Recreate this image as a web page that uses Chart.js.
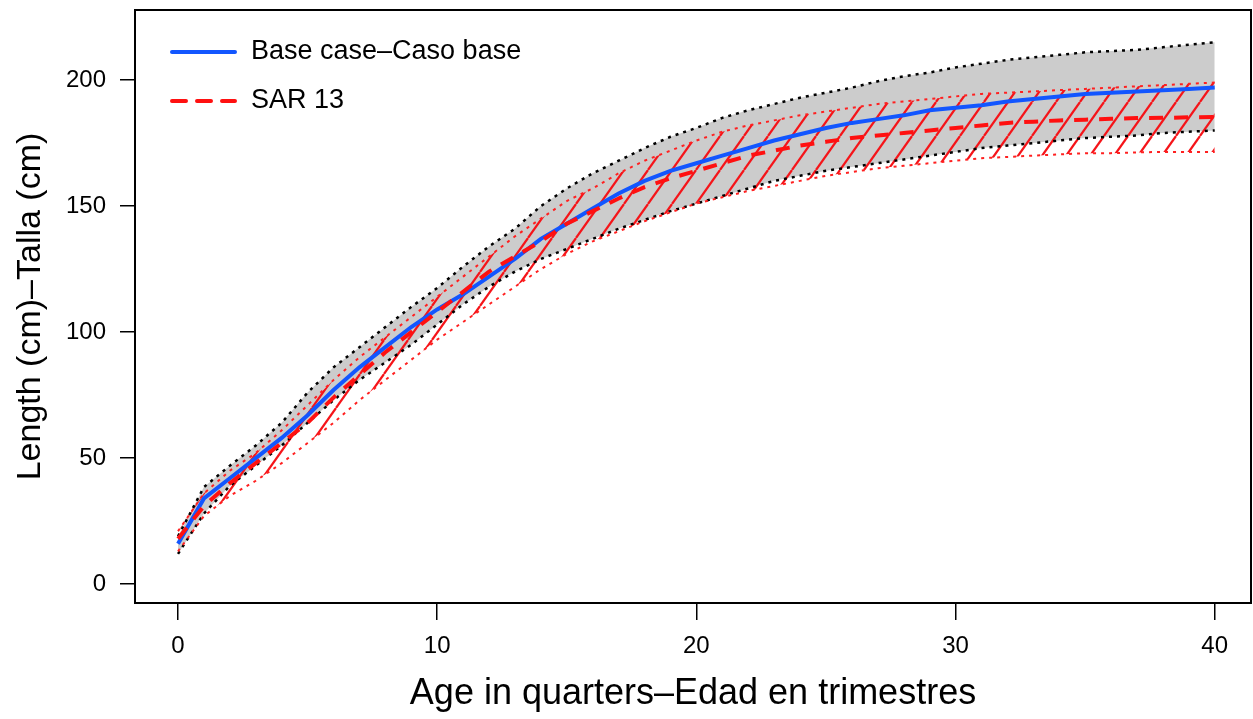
<!DOCTYPE html>
<html>
<head>
<meta charset="utf-8">
<script src="https://cdn.jsdelivr.net/npm/chart.js@4.4.0/dist/chart.umd.min.js"></script>
<style>
  html, body { margin: 0; padding: 0; background: #fff; }
  #wrap { width: 1253px; height: 719px; }
</style>
</head>
<body>
<div id="wrap"><canvas id="growth"></canvas></div>
<script>
const FONT = "'Liberation Sans', Arial, sans-serif";

// age in quarters
const quarters = [0, 1, 2, 3, 4, 5, 6, 7, 8, 9, 10, 11, 12, 13, 14, 15, 16, 17, 18, 19, 20,
                  21, 22, 23, 24, 25, 26, 27, 28, 29, 30, 31, 32, 33, 34, 35, 36, 37, 38, 39, 40];

// base case: mean length and interval limits (cm)
const baseMean = [16, 34, 42, 50, 58, 67, 77, 86, 94, 102, 109, 115, 122, 129, 137, 143, 149, 155, 160, 164, 167,
                  170, 173, 176, 178.5, 181, 183, 184.5, 186, 188, 189, 190, 191.5, 192.5, 193.5, 194.5, 195, 195.5, 196, 196.5, 197];
const baseUpper = [19, 38.5, 47, 55, 64, 76, 86, 94, 102, 110, 117.5, 126, 134, 141, 150, 157, 163, 168, 173, 177.5, 181,
                   185, 188, 190.5, 193, 195, 197, 199.5, 201.5, 203, 205, 206.5, 208, 209, 210, 211, 211.5, 212, 213, 214, 215];
const baseLower = [12, 28, 39, 47, 55, 64, 73, 81, 88, 95, 103, 111, 118, 124, 129, 133, 137, 141, 144.5, 148, 151,
                   154, 157, 160, 162, 164, 165.5, 167, 168.5, 170, 171.5, 173, 174, 175, 176, 177, 177.5, 178, 179, 179.5, 180];

// SAR 13: mean length and interval limits (cm)
const sarMean = [18, 31, 40, 48, 56, 64, 74, 83, 92, 100, 108, 116, 124, 130, 136, 143, 148, 153, 157.5, 161, 164,
                 167, 170, 172, 174, 175.5, 177, 178, 179, 180, 181, 182, 183, 183.5, 184, 184.3, 184.6, 184.9, 185, 185.2, 185.3];
const sarUpper = [21, 36, 45, 52, 61, 71, 81, 90, 98, 106, 114, 122, 130, 138, 145, 152, 157, 163, 168, 172, 176,
                  179.5, 182, 184, 186, 187.5, 189, 190.5, 191.5, 192.5, 193.5, 194.5, 195, 195.5, 196, 196.5, 197, 197.5, 198, 198.5, 199];
const sarLower = [13, 27, 35, 41, 48, 56, 64, 73, 81, 89, 97, 104, 111, 118, 125, 131, 136, 140, 144, 147.5, 151,
                  153.5, 156, 158, 160, 162, 163.5, 165, 166, 167, 168, 169, 169.5, 170, 170.5, 171, 171, 171.3, 171.5, 171.5, 171.5];

const xTicks = [0, 10, 20, 30, 40];
const yTicks = [0, 50, 100, 150, 200];

function points(values) {
  return quarters.map((q, i) => ({ x: q, y: values[i] }));
}

// diagonal red hatching used for the SAR 13 band
function hatchPattern() {
  const w = 24, h = 34;
  const c = document.createElement('canvas');
  c.width = w; c.height = h;
  const g = c.getContext('2d');
  g.strokeStyle = 'rgb(245,20,25)';
  g.lineWidth = 2.2;
  for (let k = -1; k <= 1; k++) {
    g.beginPath();
    g.moveTo(k * w, h);
    g.lineTo(k * w + w, 0);
    g.stroke();
  }
  return g.createPattern(c, 'repeat');
}

const frameBox = {
  id: 'frameBox',
  afterDatasetsDraw(chart) {
    const { ctx, chartArea: a } = chart;
    ctx.save();
    ctx.strokeStyle = '#000';
    ctx.lineWidth = 2;
    ctx.strokeRect(a.left, a.top, a.right - a.left, a.bottom - a.top);
    ctx.restore();
  }
};

const insetLegend = {
  id: 'insetLegend',
  afterDatasetsDraw(chart, args, opts) {
    const { ctx, chartArea: a } = chart;
    ctx.save();
    opts.items.forEach((idx, i) => {
      const ds = chart.data.datasets[idx];
      const x0 = a.left + opts.left;
      const y = a.top + opts.top + i * opts.spacing;
      ctx.beginPath();
      ctx.setLineDash(ds.borderDash || []);
      ctx.lineWidth = ds.borderWidth;
      ctx.strokeStyle = ds.borderColor;
      ctx.lineCap = 'round';
      ctx.moveTo(x0, y);
      ctx.lineTo(x0 + opts.lineLength, y);
      ctx.stroke();
      ctx.setLineDash([]);
      ctx.fillStyle = '#000';
      ctx.font = opts.fontSize + 'px ' + FONT;
      ctx.textBaseline = 'middle';
      ctx.fillText(ds.label, x0 + opts.lineLength + opts.gap, y);
    });
    ctx.restore();
  }
};

new Chart(document.getElementById('growth').getContext('2d'), {
  type: 'line',
  data: {
    datasets: [
      { label: 'SAR 13', data: points(sarMean), borderColor: '#ff1010', borderWidth: 4, borderDash: [14, 11], fill: false },
      { label: 'Base case\u2013Caso base', data: points(baseMean), borderColor: '#1256ff', borderWidth: 4, fill: false },
      { label: 'SAR 13 upper', data: points(sarUpper), borderColor: '#ff2020', borderWidth: 2, borderDash: [3, 5],
        fill: '+1', backgroundColor: hatchPattern() },
      { label: 'SAR 13 lower', data: points(sarLower), borderColor: '#ff2020', borderWidth: 2, borderDash: [3, 5], fill: false },
      { label: 'Base upper', data: points(baseUpper), borderColor: '#000', borderWidth: 2.5, borderDash: [3, 5],
        fill: '+1', backgroundColor: '#cccccc' },
      { label: 'Base lower', data: points(baseLower), borderColor: '#000', borderWidth: 2.5, borderDash: [3, 5], fill: false }
    ]
  },
  options: {
    responsive: true,
    maintainAspectRatio: false,
    animation: false,
    layout: { padding: { top: 10, right: 2, left: 0, bottom: 0 } },
    elements: { point: { radius: 0 }, line: { tension: 0 } },
    plugins: {
      legend: { display: false },
      tooltip: { enabled: false },
      filler: { drawTime: 'beforeDatasetsDraw' },
      insetLegend: { items: [1, 0], left: 37, top: 42, spacing: 49, lineLength: 63, gap: 16, fontSize: 27 }
    },
    scales: {
      x: {
        type: 'linear',
        min: -1.66,
        max: 41.4,
        afterBuildTicks: (s) => { s.ticks = xTicks.map(v => ({ value: v })); },
        afterFit: (s) => { s.height = 116; s.paddingLeft = 0; s.paddingRight = 0; },
        border: { display: false },
        grid: { drawOnChartArea: false, drawTicks: true, tickLength: 17, color: '#000', lineWidth: 1.5 },
        ticks: { color: '#000', padding: 12, font: { family: FONT, size: 24 } },
        title: { display: true, text: 'Age in quarters\u2013Edad en trimestres', color: '#000',
                 font: { family: FONT, size: 36 }, padding: { top: 0, bottom: 3 } }
      },
      y: {
        type: 'linear',
        min: -7.5,
        max: 227.8,
        afterBuildTicks: (s) => { s.ticks = yTicks.map(v => ({ value: v })); },
        afterFit: (s) => { s.width = 135; s.paddingTop = 0; s.paddingBottom = 0; },
        border: { display: false },
        grid: { drawOnChartArea: false, drawTicks: true, tickLength: 15, color: '#000', lineWidth: 1.5 },
        ticks: { color: '#000', padding: 14, font: { family: FONT, size: 24 } },
        title: { display: true, text: 'Length (cm)\u2013Talla (cm)', color: '#000',
                 font: { family: FONT, size: 34 }, padding: { top: 10, bottom: 0 } }
      }
    }
  },
  plugins: [frameBox, insetLegend]
});
</script>
</body>
</html>
